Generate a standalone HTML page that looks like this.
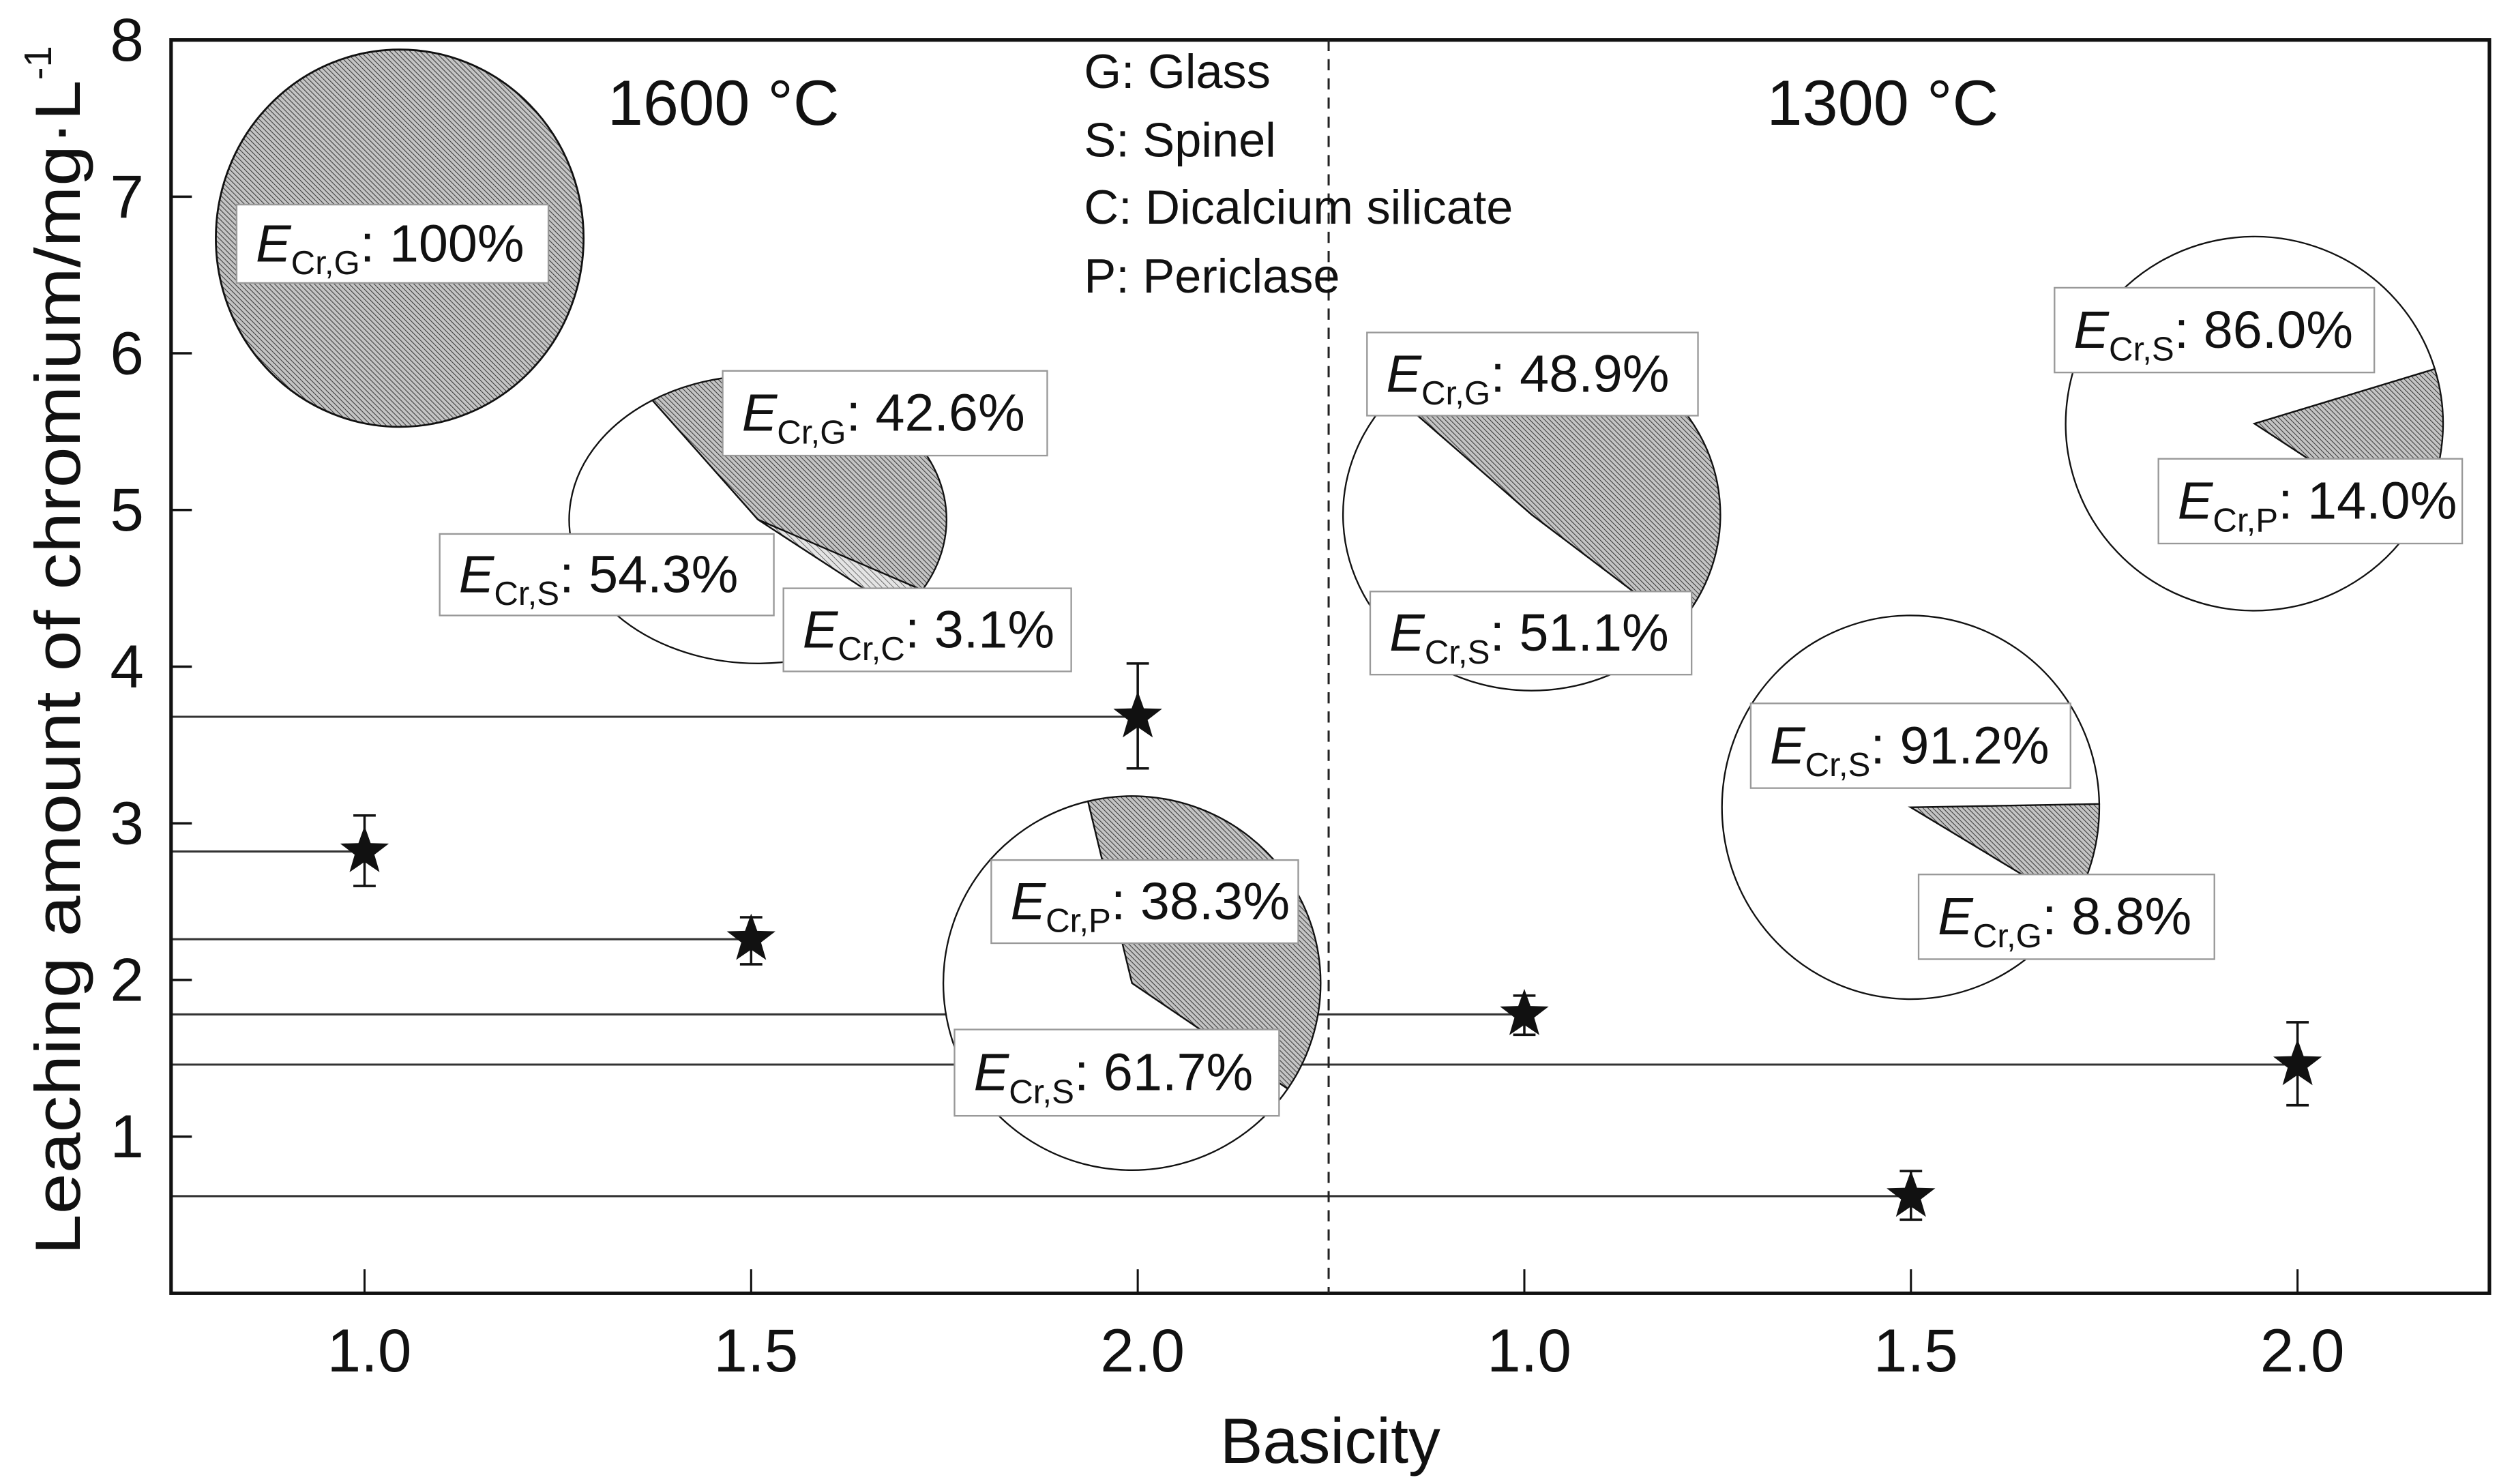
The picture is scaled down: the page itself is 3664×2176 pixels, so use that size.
<!DOCTYPE html>
<html><head><meta charset="utf-8"><style>
html,body{margin:0;padding:0;background:#fff}
body{position:relative}
svg{display:block}
text{font-family:"Liberation Sans",Arial,sans-serif;fill:#111}
</style></head><body>
<svg id="chart" width="3664" height="2176" viewBox="0 0 1563 928.3" preserveAspectRatio="none" xmlns="http://www.w3.org/2000/svg">
<defs>
<pattern id="hatch" patternUnits="userSpaceOnUse" width="2.2" height="2.2" patternTransform="rotate(-45)">
<rect width="2.2" height="2.2" fill="#c4c4c4"/><line x1="0" y1="0" x2="0" y2="2.2" stroke="#3a3a3a" stroke-width="0.9"/>
</pattern>
<pattern id="hatch2" patternUnits="userSpaceOnUse" width="2.6" height="2.6" patternTransform="rotate(-45)">
<rect width="2.6" height="2.6" fill="#e4e4e4"/><line x1="0" y1="0" x2="0" y2="2.6" stroke="#555" stroke-width="0.7"/>
</pattern>
</defs>
<g id="lines"></g>
<g id="pies"></g>
<g id="marks"></g>
<g id="axes"></g>
<g id="labels"></g>
</svg>
<script>
const categories = ["1.0","1.5","2.0","1.0","1.5","2.0"];
const leaching = [2.82, 2.26, 3.68, 1.78, 0.62, 1.46];
const errLow = [2.60, 2.10, 3.35, 1.65, 0.47, 1.20];
const errHigh = [3.05, 2.40, 4.02, 1.90, 0.78, 1.73];
const yTicks = [1,2,3,4,5,6,7,8];

const NS = "http://www.w3.org/2000/svg";
const L = 107, R = 1557, T = 25, B = 809;
function xS(i){ return 228 + 241.8*i; }
function yS(v){ return B - (B - T) * v / 8; }
function mk(tag, attrs, parent){
  const e = document.createElementNS(NS, tag);
  for (const k in attrs) e.setAttribute(k, attrs[k]);
  parent.appendChild(e); return e;
}
const gLines = document.getElementById('lines'), gPies = document.getElementById('pies'),
      gMarks = document.getElementById('marks'), gAxes = document.getElementById('axes');

leaching.forEach((v,i)=>{
  const ln = mk('line',{x1:L,x2:xS(i),y1:yS(v),y2:yS(v),stroke:'#333','stroke-width':1.3},gLines);
  
  
});

function pt(cx,cy,rx,ry,a){ const r=a*Math.PI/180; return [cx+rx*Math.cos(r), cy+ry*Math.sin(r)]; }
function slice(cx,cy,rx,ry,a0,a1,fill,name){
  const p0=pt(cx,cy,rx,ry,a0), p1=pt(cx,cy,rx,ry,a1);
  const large = (a1-a0)>180?1:0;
  const p = mk('path',{d:`M${cx},${cy} L${p0[0]},${p0[1]} A${rx},${ry} 0 ${large} 1 ${p1[0]},${p1[1]} Z`,fill:fill,stroke:'#111','stroke-width':1},gPies);
  
  
}
function pie(cx,cy,rx,ry,start,parts,name){
  let a=start;
  parts.forEach((pp,k)=>{ const sw=pp[0]*3.6; slice(cx,cy,rx,ry,a,a+sw,pp[1],name+'-slice-'+k); a+=sw; });
}
const e1 = mk('ellipse',{cx:250,cy:149,rx:115,ry:118,fill:'url(#hatch)',stroke:'#111','stroke-width':1.2},gPies);


pie(474,325,118,90,-124,[[42.6,'url(#hatch)'],[3.1,'url(#hatch2)'],[54.3,'#fff']],'pie-1600-b15');
pie(708,615,118,117,-103.5,[[38.3,'url(#hatch)'],[61.7,'#fff']],'pie-1600-b20');
pie(958,322,118,110,-137,[[48.9,'url(#hatch)'],[51.1,'#fff']],'pie-1300-b10');
pie(1410,265,118,117,-17,[[14.0,'url(#hatch)'],[86.0,'#fff']],'pie-1300-b20');
pie(1195,505,118,120,-1,[[8.8,'url(#hatch)'],[91.2,'#fff']],'pie-1300-b15');

function starPath(cx,cy,ro,ri){
  let d='';
  for(let k=0;k<10;k++){ const r=k%2?ri:ro; const a=-Math.PI/2+k*Math.PI/5;
    d+=(k?'L':'M')+(cx+r*Math.cos(a)).toFixed(2)+','+(cy+r*Math.sin(a)).toFixed(2); }
  return d+'Z';
}
leaching.forEach((v,i)=>{
  const x=xS(i);
  const eb = mk('path',{d:`M${x},${yS(errLow[i])}V${yS(errHigh[i])}M${x-7},${yS(errLow[i])}H${x+7}M${x-7},${yS(errHigh[i])}H${x+7}`,stroke:'#111','stroke-width':1.5,fill:'none'},gMarks);
  
  
  const s = mk('path',{d:starPath(x,yS(v),16,6.5),fill:'#111'},gMarks);
  
  
});

const frame = mk('rect',{x:L,y:T,width:R-L,height:B-T,fill:'none',stroke:'#111','stroke-width':2.2},gAxes);


const dash = mk('line',{x1:831,x2:831,y1:T,y2:B,stroke:'#222','stroke-width':1.3,'stroke-dasharray':'7,5'},gAxes);


yTicks.forEach(v=>{
  const y=yS(v);
  if(v<8){ const tk = mk('line',{x1:L,x2:L+13,y1:y,y2:y,stroke:'#111','stroke-width':1.5},gAxes);
      }
  const t = mk('text',{x:90,y:y+13,'text-anchor':'end','font-size':38},gAxes);
  t.textContent=v;
  
  
});
categories.forEach((c,i)=>{
  const x=xS(i);
  const tk = mk('line',{x1:x,x2:x,y1:B,y2:B-15,stroke:'#111','stroke-width':1.3},gAxes);
   
  const t = mk('text',{x:x+3,y:858,'text-anchor':'middle','font-size':38},gAxes);
  t.textContent=c;
  
  
});
</script>
<script>
(function(){
const NS="http://www.w3.org/2000/svg";
const g=document.getElementById('labels');
function box(x1,y1,x2,y2,sub,val,name){
  const grp=document.createElementNS(NS,'g'); g.appendChild(grp);
  
  
  const r=document.createElementNS(NS,'rect');
  r.setAttribute('x',x1);r.setAttribute('y',y1);r.setAttribute('width',x2-x1);r.setAttribute('height',y2-y1);
  r.setAttribute('fill','#fff');r.setAttribute('stroke','#999');r.setAttribute('stroke-width','1');
  grp.appendChild(r);
  const t=document.createElementNS(NS,'text');
  t.setAttribute('x',x1+12);t.setAttribute('y',(y1+y2)/2+11);t.setAttribute('font-size','33');
  t.innerHTML='<tspan font-style="italic">E</tspan><tspan font-size="21" dy="8">'+sub+'</tspan><tspan dy="-8">: '+val+'</tspan>';
  grp.appendChild(t);
}
box(148,128,343,177,'Cr,G','100%','label-100-glass');
box(452,232,655,285,'Cr,G','42.6%','label-42-glass');
box(275,334,484,385,'Cr,S','54.3%','label-54-spinel');
box(490,368,670,420,'Cr,C','3.1%','label-3-dicalcium');
box(620,538,812,590,'Cr,P','38.3%','label-38-periclase');
box(597,644,800,698,'Cr,S','61.7%','label-61-spinel');
box(855,208,1062,260,'Cr,G','48.9%','label-48-glass');
box(857,370,1058,422,'Cr,S','51.1%','label-51-spinel');
box(1285,180,1485,233,'Cr,S','86.0%','label-86-spinel');
box(1350,287,1540,340,'Cr,P','14.0%','label-14-periclase');
box(1095,440,1295,493,'Cr,S','91.2%','label-91-spinel');
box(1200,547,1385,600,'Cr,G','8.8%','label-8-glass');
})();
</script>
<svg style="position:absolute;left:0;top:0" width="3664" height="2176" viewBox="0 0 1563 928.3" preserveAspectRatio="none" xmlns="http://www.w3.org/2000/svg">
<text x="380" y="78" font-size="40" font-family="Liberation Sans, sans-serif">1600 °C</text>
<text x="1105" y="78" font-size="40" font-family="Liberation Sans, sans-serif">1300 °C</text>
<text x="678" y="55" font-size="30" font-family="Liberation Sans, sans-serif">G: Glass</text>
<text x="678" y="98" font-size="30" font-family="Liberation Sans, sans-serif">S: Spinel</text>
<text x="678" y="140" font-size="30" font-family="Liberation Sans, sans-serif">C: Dicalcium silicate</text>
<text x="678" y="183" font-size="30" font-family="Liberation Sans, sans-serif">P: Periclase</text>
<text x="832" y="915" font-size="40" text-anchor="middle" font-family="Liberation Sans, sans-serif">Basicity</text>
<text transform="translate(50,785) rotate(-90)" font-size="40" font-family="Liberation Sans, sans-serif"><tspan textLength="735" lengthAdjust="spacingAndGlyphs">Leaching amount of chromium/mg·L</tspan><tspan font-size="24" dy="-18">-1</tspan></text>
</svg>
</body></html>
